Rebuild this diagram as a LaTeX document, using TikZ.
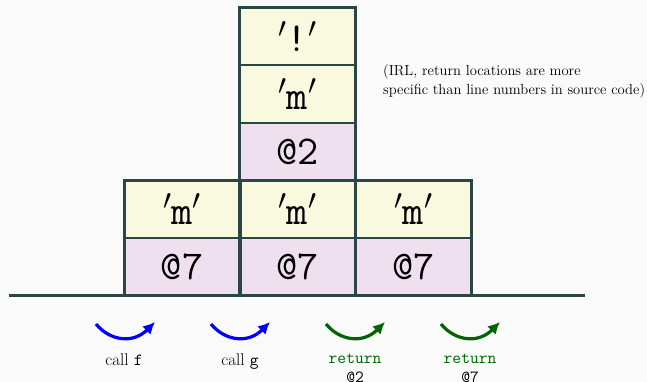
\RequirePackage{fix-cm}
\documentclass[tikz,border=0pt]{standalone}
\usetikzlibrary{arrows.meta}
\definecolor{bgc}{RGB}{250,250,250}
\definecolor{edge}{RGB}{44,70,72}
\definecolor{cellY}{RGB}{249,249,224}
\definecolor{cellP}{RGB}{239,224,239}
\definecolor{retgreen}{RGB}{0,100,0}
\definecolor{callblue}{RGB}{0,0,255}
\tikzset{
  cell/.style={draw=edge, line width=1.8pt, minimum width=116pt, minimum height=57.5pt,
    inner sep=0pt, outer sep=0pt, font=\fontsize{41}{41}\selectfont},
  yc/.style={cell, fill=cellY},
  pc/.style={cell, fill=cellP},
  outline/.style={draw=edge, line width=3pt, line cap=rect},
  ground/.style={draw=edge, line width=3pt},
  callarrow/.style={draw=callblue, line width=3.2pt, -{Latex[length=12pt,width=12pt]}},
  retarrow/.style={draw=retgreen, line width=3.2pt, -{Latex[length=12pt,width=12pt]}},
  lbl/.style={font=\fontsize{17}{19}\selectfont, align=center, inner sep=0pt},
  note/.style={font=\fontsize{14.6}{19}\selectfont, align=left, anchor=north west, inner sep=0pt}
}
\begin{document}
\begin{tikzpicture}[x=1pt,y=-1pt]
\fill[bgc] (0,0) rectangle (647,382);
\useasboundingbox (0,0) rectangle (647,382);
% center column
\node[yc] (m1) at (297.5,36.5) {$'$\texttt{!}$'$};
\node[yc] (m2) at (297.5,94) {$'$\texttt{m}$'$};
\node[pc] (m3) at (297.5,151.5) {\texttt{@2}};
\node[yc] (m4) at (297.5,209) {$'$\texttt{m}$'$};
\node[pc] (m5) at (297.5,266.5) {\texttt{@7}};
% left column
\node[yc] (l4) at (182,209) {$'$\texttt{m}$'$};
\node[pc] (l5) at (182,266.5) {\texttt{@7}};
% right column
\node[yc] (r4) at (413.5,209) {$'$\texttt{m}$'$};
\node[pc] (r5) at (413.5,266.5) {\texttt{@7}};
% thick outlines
\draw[outline] (m1.north west) rectangle (m5.south east);
\draw[outline] (l4.north west) rectangle (l5.south east);
\draw[outline] (r4.north west) rectangle (r5.south east);
\draw[outline] (m4.north west) -- (m4.north east);
% ground
\coordinate (g1) at (9,295);
\coordinate (g2) at (585,295);
\draw[ground] (g1) -- (g2);
% note
\node[note] (nt) at (383,64) {(IRL, return locations are more\\specific than line numbers in source code)};
% arrows
\coordinate (a1s) at (96,324); \coordinate (a1e) at (155,322);
\coordinate (a2s) at (211,324); \coordinate (a2e) at (270,322);
\coordinate (a3s) at (326,324); \coordinate (a3e) at (385,322);
\coordinate (a4s) at (441,324); \coordinate (a4e) at (500,322);
\draw[callarrow] (a1s) .. controls (110,341) and (133,344) .. (a1e);
\draw[callarrow] (a2s) .. controls (225,341) and (248,344) .. (a2e);
\draw[retarrow] (a3s) .. controls (340,341) and (363,344) .. (a3e);
\draw[retarrow] (a4s) .. controls (455,341) and (478,344) .. (a4e);
% labels
\node[lbl, anchor=base] (c1) at (124,365) {call \texttt{f}};
\node[lbl, anchor=base] (c2) at (240,365) {call \texttt{g}};
\node[lbl, anchor=base] (c3) at (355,363) {\textcolor{retgreen}{\texttt{return}}};
\node[lbl, anchor=base] (c3b) at (355,382) {\texttt{@2}};
\node[lbl, anchor=base] (c4) at (470,363) {\textcolor{retgreen}{\texttt{return}}};
\node[lbl, anchor=base] (c4b) at (470,382) {\texttt{@7}};
\end{tikzpicture}
\end{document}
